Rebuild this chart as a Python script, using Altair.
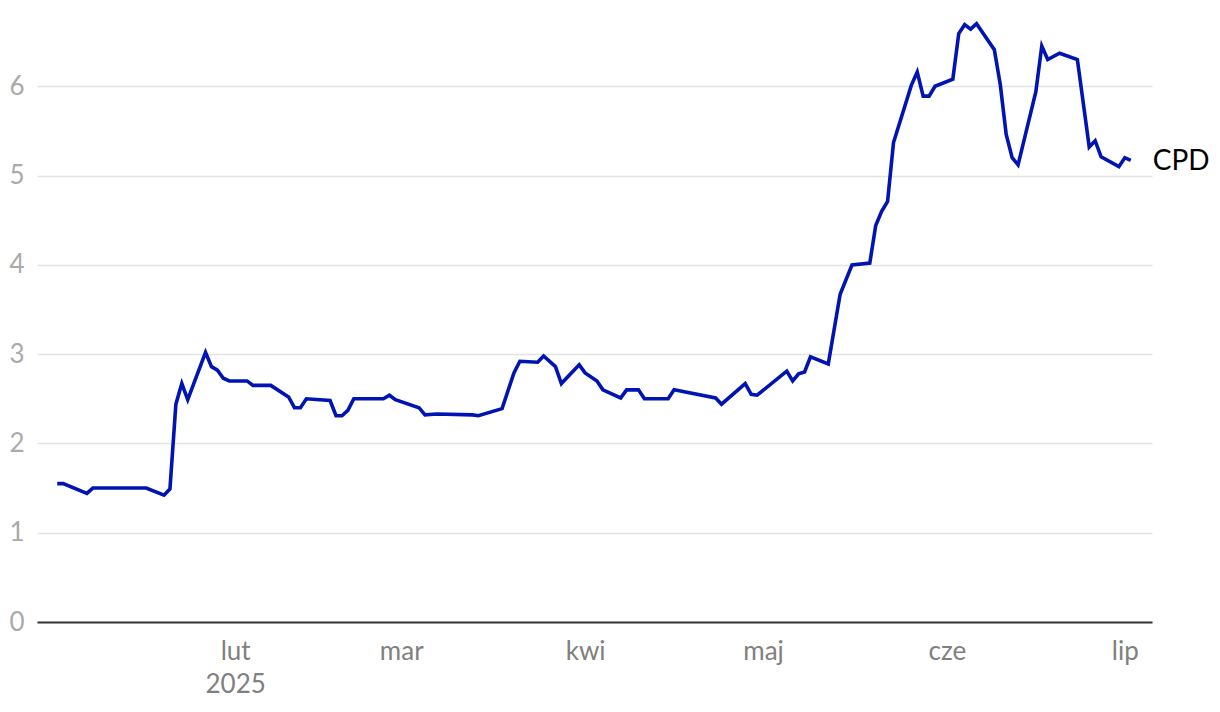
import altair as alt
import pandas as pd

dates = [
    "2025-01-02", "2025-01-03", "2025-01-07", "2025-01-08", "2025-01-17", "2025-01-20",
    "2025-01-21", "2025-01-22", "2025-01-23", "2025-01-24", "2025-01-27", "2025-01-28",
    "2025-01-29", "2025-01-30", "2025-01-31", "2025-02-03", "2025-02-04", "2025-02-07",
    "2025-02-10", "2025-02-11", "2025-02-12", "2025-02-13", "2025-02-17", "2025-02-18",
    "2025-02-19", "2025-02-20", "2025-02-21", "2025-02-26", "2025-02-27", "2025-02-28",
    "2025-03-04", "2025-03-05", "2025-03-07", "2025-03-13", "2025-03-14", "2025-03-18",
    "2025-03-20", "2025-03-21", "2025-03-24", "2025-03-25", "2025-03-27", "2025-03-28",
    "2025-03-31", "2025-04-01", "2025-04-03", "2025-04-04", "2025-04-07", "2025-04-08",
    "2025-04-10", "2025-04-11", "2025-04-15", "2025-04-16", "2025-04-23", "2025-04-24",
    "2025-04-28", "2025-04-29", "2025-04-30", "2025-05-05", "2025-05-06", "2025-05-07",
    "2025-05-08", "2025-05-09", "2025-05-12", "2025-05-14", "2025-05-16", "2025-05-19",
    "2025-05-20", "2025-05-21", "2025-05-22", "2025-05-23", "2025-05-26", "2025-05-27",
    "2025-05-28", "2025-05-29", "2025-05-30", "2025-06-02", "2025-06-03", "2025-06-04",
    "2025-06-05", "2025-06-06", "2025-06-09", "2025-06-10", "2025-06-11", "2025-06-12",
    "2025-06-13", "2025-06-16", "2025-06-17", "2025-06-18", "2025-06-20", "2025-06-23",
    "2025-06-25", "2025-06-26", "2025-06-27", "2025-06-30", "2025-07-01", "2025-07-02",
]
values = [
    1.55, 1.55, 1.44, 1.50, 1.50, 1.42,
    1.49, 2.44, 2.67, 2.49, 3.02, 2.86,
    2.82, 2.73, 2.70, 2.70, 2.65, 2.65,
    2.52, 2.40, 2.40, 2.50, 2.48, 2.31,
    2.31, 2.37, 2.50, 2.50, 2.54, 2.49,
    2.40, 2.32, 2.33, 2.32, 2.31, 2.39,
    2.79, 2.92, 2.91, 2.98, 2.86, 2.67,
    2.88, 2.79, 2.70, 2.60, 2.51, 2.60,
    2.60, 2.50, 2.50, 2.60, 2.51, 2.44,
    2.67, 2.55, 2.54, 2.81, 2.70, 2.78,
    2.80, 2.97, 2.89, 3.67, 4.00, 4.02,
    4.44, 4.60, 4.71, 5.37, 6.01, 6.16,
    5.89, 5.89, 6.00, 6.08, 6.59, 6.69,
    6.64, 6.70, 6.41, 6.02, 5.46, 5.20,
    5.12, 5.94, 6.45, 6.30, 6.37, 6.30,
    5.32, 5.39, 5.21, 5.10, 5.20, 5.17,
]
series_name = "CPD"
y_ticks = [0, 1, 2, 3, 4, 5, 6]
month_labels = ["sty", "lut", "mar", "kwi", "maj", "cze", "lip", "sie", "wrz", "paź", "lis", "gru"]

df = pd.DataFrame({"date": dates, "value": values, "party": series_name})
last = df.tail(1)

tick_dates = [alt.DateTime(year=2025, month=m, date=1) for m in range(2, 8)]
label_expr = (
    "month(datum.value)==1 ? ['lut','2025'] : "
    + str(month_labels).replace(" ", "")
    + "[month(datum.value)]"
)

x = alt.X(
    "date:T",
    scale=alt.Scale(domain=["2024-12-29T14:00:00", "2025-07-05T14:00:00"]),
    axis=alt.Axis(
        title=None, values=tick_dates, labelExpr=label_expr, grid=False, ticks=False,
        domain=True, domainColor="#333333", domainWidth=2,
        labelColor="#808080", labelFontSize=26, labelFont="Lato",
        labelPadding=16, labelLineHeight=33, labelAlign="center",
    ),
)
y = alt.Y(
    "value:Q",
    scale=alt.Scale(domain=[0, 6.72], nice=False, zero=True),
    axis=alt.Axis(
        title=None, values=y_ticks, format="d", grid=True, gridColor="#e3e3e3",
        gridWidth=1.5, ticks=False, domain=False, labelColor="#aaaaaa",
        labelFontSize=26, labelFont="Lato", labelPadding=13,
    ),
)

line = alt.Chart(df).mark_line(color="#0014b4", strokeWidth=3.6).encode(x=x, y=y)
label = alt.Chart(last).mark_text(
    align="left", baseline="middle", dx=22, dy=2, fontSize=28, font="Lato", color="#000000"
).encode(x="date:T", y="value:Q", text="party:N")

chart = (
    alt.layer(line, label)
    .properties(width=1115, height=600, padding={"left": 0, "top": 8, "right": 0, "bottom": 0})
    .configure_view(stroke=None)
)
chart.save("out.html", embed_options={"renderer": "svg", "actions": False})
